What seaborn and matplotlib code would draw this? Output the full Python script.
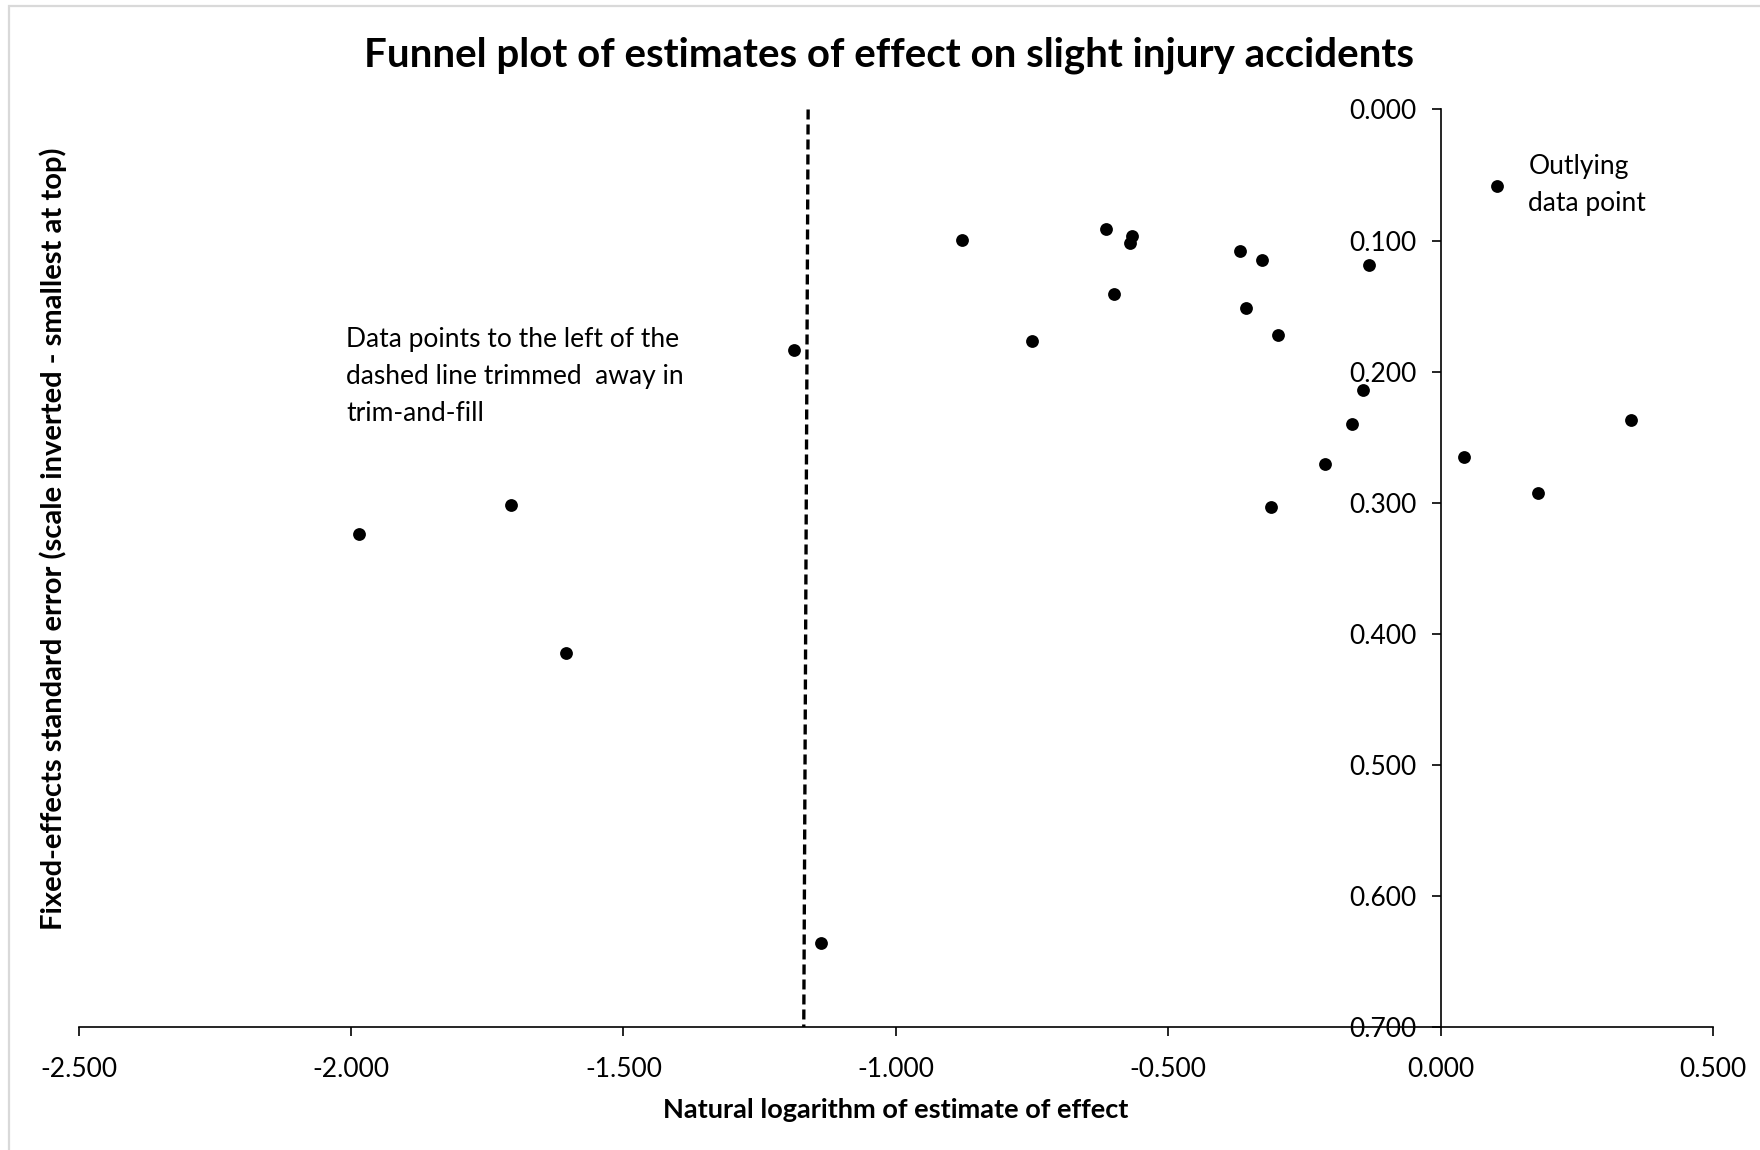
import matplotlib
matplotlib.use("Agg")
import matplotlib.pyplot as plt
from matplotlib.patches import Rectangle
from matplotlib.ticker import FormatStrFormatter
import seaborn as sns
import pandas as pd

# ---- data ----
log_effect = [0.1037, -0.8792, -0.6137, -0.5670, -0.5707, -0.3676, -0.3278,
              -0.1318, -0.6001, -0.7495, -0.3577, -0.2984, -0.1423, -0.1625,
              -0.2121, -0.3112, 0.0432, 0.1796, 0.3492, -1.1877, -1.9846,
              -1.7062, -1.6063, -1.1381]
std_error = [0.0581, 0.0995, 0.0912, 0.0963, 0.1021, 0.1077, 0.1146,
             0.1186, 0.1407, 0.1766, 0.1516, 0.1722, 0.2140, 0.2397,
             0.2702, 0.3032, 0.2648, 0.2923, 0.2371, 0.1837, 0.3240,
             0.3019, 0.4148, 0.6356]
trim_line_x = [-1.161, -1.169]
trim_line_y = [0.0, 0.7]
x_ticks = [-2.5, -2.0, -1.5, -1.0, -0.5, 0.0, 0.5]
y_ticks = [0.0, 0.1, 0.2, 0.3, 0.4, 0.5, 0.6, 0.7]

title = "Funnel plot of estimates of effect on slight injury accidents"
x_label = "Natural logarithm of estimate of effect"
y_label = "Fixed-effects standard error (scale inverted - smallest at top)"
note_left = "Data points to the left of the\ndashed line trimmed  away in\ntrim-and-fill"
note_right = "Outlying\ndata point"

df = pd.DataFrame({"log_effect": log_effect, "std_error": std_error})

sns.set_theme(style="white")
plt.rcParams["font.family"] = ["Lato", "DejaVu Sans"]

fig = plt.figure(figsize=(17.6, 11.5), dpi=100)
ax = fig.add_axes([0.0447, 0.1067, 0.9286, 0.7981])

sns.scatterplot(data=df, x="log_effect", y="std_error", color="black",
                s=85, linewidth=0, ax=ax, zorder=3)
ax.plot(trim_line_x, trim_line_y, color="black", lw=2.4,
        linestyle=(0, (3, 1.5)), zorder=2)

ax.set_xlim(-2.5, 0.5)
ax.set_ylim(0.7, 0.0)
ax.set_xticks(x_ticks)
ax.set_yticks(y_ticks)
ax.xaxis.set_major_formatter(FormatStrFormatter("%.3f"))
ax.yaxis.set_major_formatter(FormatStrFormatter("%.3f"))

for side in ["top", "right"]:
    ax.spines[side].set_visible(False)
ax.spines["left"].set_position(("data", 0))
for side in ["left", "bottom"]:
    ax.spines[side].set_color("black")
    ax.spines[side].set_linewidth(1.2)

ax.tick_params(axis="both", which="major", direction="out", length=6.5,
               width=1.2, color="black", labelsize=19, labelcolor="black")
ax.tick_params(axis="y", pad=11, left=True)
ax.tick_params(axis="x", pad=15, bottom=True)
ax.grid(False)

ax.set_xlabel(x_label, fontsize=19.5, fontweight="bold", color="black")
ax.xaxis.set_label_coords(0.5001, -0.0901)
ax.xaxis.label.set_va("center")
ax.set_ylabel(y_label, fontsize=21, fontweight="bold", color="black")
ax.yaxis.set_label_coords(-0.0157, 0.532)
ax.yaxis.label.set_va("center")
ax.yaxis.label.set_ha("center")
ax.yaxis.label.set_rotation_mode("default")

ax.text(-2.009, 0.2035, note_left, fontsize=19, ha="left", va="center",
        linespacing=1.6, color="black")
ax.text(0.161, 0.0575, note_right, fontsize=19, ha="left", va="center",
        linespacing=1.6, color="black")

fig.text(0.505, 0.952, title, fontsize=29, fontweight="bold",
         ha="center", va="center", color="black")

fig.patches.append(Rectangle((9 / 1760, -0.1), 2.0, 1.1 - 6 / 1150,
                             transform=fig.transFigure, fill=False,
                             edgecolor="#d9d9d9", linewidth=1.6))

fig.savefig("out.png", dpi=100)
